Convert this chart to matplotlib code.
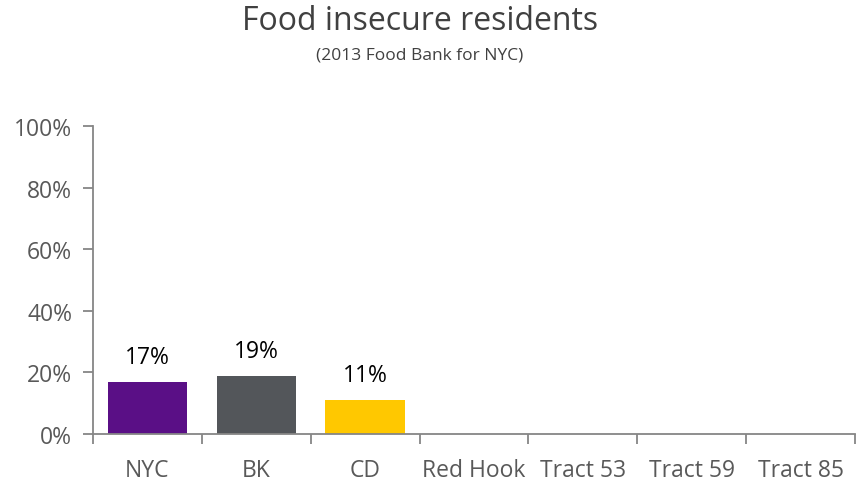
import matplotlib
matplotlib.use("Agg")
import matplotlib.pyplot as plt
from matplotlib.ticker import FuncFormatter, FixedLocator

categories = ["NYC", "BK", "CD", "Red Hook", "Tract 53", "Tract 59", "Tract 85"]
values = [0.168, 0.189, 0.11, None, None, None, None]
colors = ["#5a0f86", "#53565a", "#ffc800", "#5a0f86", "#5a0f86", "#5a0f86", "#5a0f86"]
title = "Food insecure residents"
subtitle = "(2013 Food Bank for NYC)"
yticks = [0, 0.2, 0.4, 0.6, 0.8, 1.0]

plt.rcParams['font.family'] = ['Open Sans', 'DejaVu Sans']

fig = plt.figure(figsize=(8.57, 4.85), dpi=100)
ax = fig.add_axes([93/857, 1 - 435/485, (855 - 93)/857, (435 - 127)/485])

x = list(range(len(categories)))
for i, v in enumerate(values):
    if v is None:
        continue
    ax.bar(i, v, width=0.73, color=colors[i], zorder=2)
    ax.text(i, v + 0.042, f"{round(v*100):.0f}%", ha="center", va="bottom",
            fontsize=16.5, color="black")

ax.set_xlim(-0.5, len(categories) - 0.5)
ax.set_ylim(0, 1.0)
ax.set_yticks(yticks)
ax.yaxis.set_major_formatter(FuncFormatter(lambda y, p: f"{y*100:.0f}%"))
ax.set_xticks(x)
ax.set_xticklabels(categories)
ax.xaxis.set_minor_locator(FixedLocator([i - 0.5 for i in range(len(categories) + 1)]))

axis_color = "#868686"
for s in ["top", "right"]:
    ax.spines[s].set_visible(False)
for s in ["left", "bottom"]:
    ax.spines[s].set_color(axis_color)
    ax.spines[s].set_linewidth(1.3)

ax.tick_params(axis="y", which="major", length=7, width=1.3, color=axis_color,
               labelsize=16.5, labelcolor="#595959", pad=8)
ax.tick_params(axis="x", which="major", length=0, labelsize=16.5,
               labelcolor="#595959", pad=17)
ax.tick_params(axis="x", which="minor", length=7, width=1.3, color=axis_color)

fig.text(420/857, 1 - 22/485, title, ha="center", va="center", fontsize=23, color="#404040")
fig.text(420/857, 1 - 56/485, subtitle, ha="center", va="center", fontsize=12.5, color="#404040")

fig.savefig("out.png", dpi=100)
